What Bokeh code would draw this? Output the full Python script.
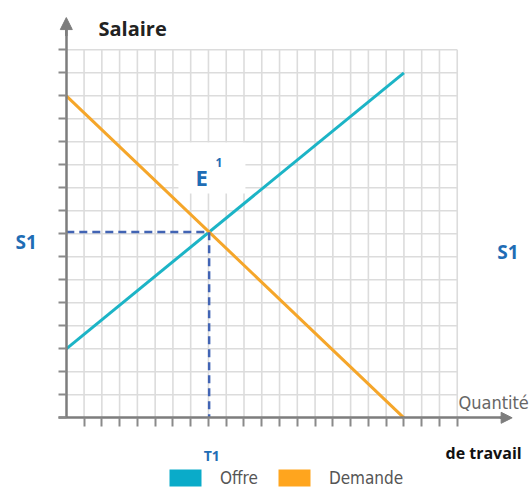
from bokeh.plotting import figure
from bokeh.models import (LinearAxis, FixedTicker, CustomJSTickFormatter, Arrow, NormalHead,
                          Label, Legend, LegendItem, Range1d)
from bokeh.embed import file_html
from bokeh.resources import INLINE

# ---------------- data ----------------
quantity = [0, 19]
demand = [14, 0]
supply = [3, 15]
x_ticks = list(range(1, 23))
y_ticks = list(range(0, 17))
grid_x_max = 22
grid_y_max = 16
y_title = "Salaire"
x_title = "Quantité"
x_title2 = "de travail"
eq_label = "E"
eq_sup = "1"
wage_label = "S1"
qty_label = "T1"
legend_labels = ["Offre", "Demande"]

# ---------------- styles ----------------
CYAN = "#1cb4c6"
CYAN_LEG = "#0aabc9"
ORANGE = "#f5a62a"
ORANGE_LEG = "#ffa51e"
DASH = "#4264b4"
BLUE_TXT = "#1f6db5"
AXIS = "#7d7d7d"
GRID = "#dcdcdc"

# intersection of the two straight lines
sd = (demand[1] - demand[0]) / (quantity[1] - quantity[0])
ss = (supply[1] - supply[0]) / (quantity[1] - quantity[0])
xE = quantity[0] + (supply[0] - demand[0]) / (sd - ss)
yE = demand[0] + sd * (xE - quantity[0])

p = figure(width=530, height=491,
           x_range=Range1d(-3.703, 26.123), y_range=Range1d(-3.204, 18.143),
           output_backend="svg", toolbar_location=None,
           x_axis_type=None, y_axis_type=None, min_border=0,
           outline_line_color=None, background_fill_color="white",
           border_fill_color="white")

# grid (bounded)
p.segment(x0=x_ticks, y0=[0] * len(x_ticks), x1=x_ticks, y1=[grid_y_max] * len(x_ticks),
          line_color=GRID, line_width=1.6)
hy = y_ticks[1:]
p.segment(x0=[0] * len(hy), y0=hy, x1=[grid_x_max] * len(hy), y1=hy,
          line_color=GRID, line_width=1.6)

# white box behind E label
p.quad(left=[6.31], right=[10.08], bottom=[9.75], top=[11.97],
       fill_color="white", line_color=None)

# curves
p.line(quantity, supply, line_color=CYAN, line_width=3)
p.line(quantity, demand, line_color=ORANGE, line_width=3)

# equilibrium dashed guides
p.line([0, xE, xE], [yE, yE, 0], line_color=DASH, line_width=2.5, line_dash="8 5")

# axes
yax = LinearAxis(fixed_location=0, ticker=FixedTicker(ticks=y_ticks), bounds=(0, 16.9),
                 major_tick_out=8, major_tick_in=0, minor_tick_out=0, minor_tick_in=0,
                 axis_line_color=AXIS, axis_line_width=2.5,
                 major_tick_line_color="#8a8a8a", major_tick_line_width=2,
                 formatter=CustomJSTickFormatter(code="return ''"))
p.add_layout(yax, "left")
xax = LinearAxis(fixed_location=0, ticker=FixedTicker(ticks=x_ticks), bounds=(-0.45, 24.8),
                 major_tick_out=9, major_tick_in=0, minor_tick_out=0, minor_tick_in=0,
                 axis_line_color=AXIS, axis_line_width=2.5,
                 major_tick_line_color="#8a8a8a", major_tick_line_width=2,
                 formatter=CustomJSTickFormatter(code="return ''"))
p.add_layout(xax, "below")

p.add_layout(Arrow(x_start=0, y_start=16.6, x_end=0, y_end=17.4,
                   line_color=AXIS, line_width=2.5,
                   end=NormalHead(size=12, fill_color=AXIS, line_color=AXIS)))
p.add_layout(Arrow(x_start=24.4, y_start=0, x_end=25.09, y_end=0,
                   line_color=AXIS, line_width=2.5,
                   end=NormalHead(size=11, fill_color=AXIS, line_color=AXIS)))

# texts
p.add_layout(Label(x=1.81, y=16.91, text=y_title, text_font="Open Sans",
                   text_font_size="20px", text_font_style="bold", text_color="#222222",
                   text_baseline="alphabetic"))
p.add_layout(Label(x=22.07, y=0.665, text=x_title, text_font="DejaVu Sans Condensed",
                   text_font_size="18px", text_color="#666666", text_baseline="alphabetic"))
p.add_layout(Label(x=21.34, y=-1.51, text=x_title2, text_font="Open Sans",
                   text_font_size="16px", text_font_style="bold", text_color="#111111",
                   text_baseline="alphabetic"))
p.add_layout(Label(x=xE + 0.15, y=-1.64, text=qty_label, text_font="Open Sans",
                   text_font_size="14px", text_font_style="bold", text_color=BLUE_TXT,
                   text_baseline="alphabetic", text_align="center"))
p.add_layout(Label(x=-2.86, y=7.63, text=wage_label, text_font="Open Sans",
                   text_font_size="19px", text_font_style="bold", text_color=BLUE_TXT,
                   text_baseline="alphabetic"))
p.add_layout(Label(x=24.25, y=7.21, text=wage_label, text_font="Open Sans",
                   text_font_size="19px", text_font_style="bold", text_color=BLUE_TXT,
                   text_baseline="alphabetic"))
p.add_layout(Label(x=7.27, y=10.46, text=eq_label, text_font="Open Sans",
                   text_font_size="22px", text_font_style="bold", text_color=BLUE_TXT,
                   text_baseline="alphabetic"))
p.add_layout(Label(x=8.40, y=11.1, text=eq_sup, text_font="Open Sans",
                   text_font_size="12px", text_font_style="bold", text_color=BLUE_TXT,
                   text_baseline="alphabetic"))

# legend (swatch renderers carry no visible geometry)
nan = float("nan")
r_o = p.quad(left=[nan], right=[nan], bottom=[nan], top=[nan],
             fill_color=CYAN_LEG, line_color=None)
r_d = p.quad(left=[nan], right=[nan], bottom=[nan], top=[nan],
             fill_color=ORANGE_LEG, line_color=None)
legend = Legend(items=[LegendItem(label=legend_labels[0], renderers=[r_o]),
                       LegendItem(label=legend_labels[1], renderers=[r_d])],
                orientation="horizontal", location=(165, 3),
                glyph_width=40, glyph_height=21, label_standoff=15, spacing=16,
                padding=0, margin=0, border_line_color=None, background_fill_alpha=0,
                label_text_font="DejaVu Sans Condensed", label_text_font_size="17px",
                label_text_color="#555555", label_height=21)
p.add_layout(legend)

open("out.html", "w").write(file_html(p, INLINE))
